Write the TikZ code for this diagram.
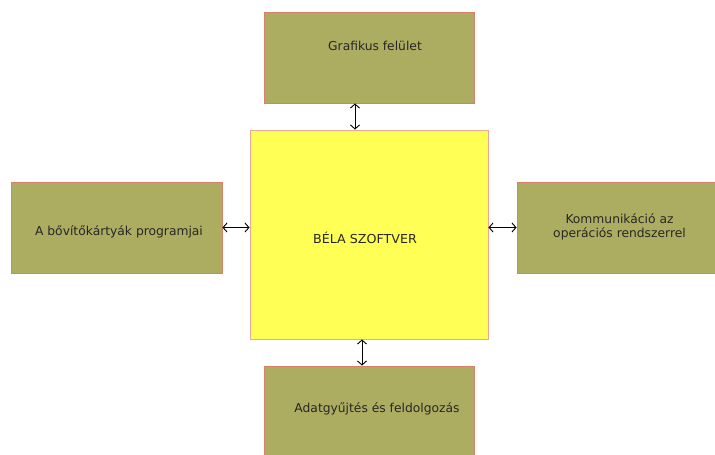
\documentclass[tikz,border=0pt]{standalone}
\usepackage{fontspec}
\setmainfont{DejaVu Sans}
\newfontfamily\widefont[FakeStretch=1.03]{DejaVu Sans}
\usetikzlibrary{arrows.meta}
\definecolor{olivebox}{HTML}{ADAD62}
\definecolor{oliveedge}{HTML}{D9806A}
\definecolor{yellowbox}{HTML}{FFFF55}
\definecolor{yellowedge}{HTML}{EBA894}
\tikzset{
  sidebox/.style={draw=oliveedge, fill=olivebox, line width=0.9pt, inner sep=0pt},
  mainbox/.style={draw=yellowedge, fill=yellowbox, line width=0.9pt, inner sep=0pt},
  label/.style={font=\fontsize{12.3}{13.8}\selectfont, text=black!85, align=center, inner sep=0pt},
  link/.style={line width=0.9pt, {Straight Barb[length=4pt,width=9pt]}-{Straight Barb[length=4pt,width=9pt]}}
}
\begin{document}
\begin{tikzpicture}[x=1pt,y=-1pt]
\useasboundingbox (0,0) rectangle (715,455);
\clip (0,0) rectangle (715,455);
\fill[white] (0,0) rectangle (715,455);
\node[mainbox, minimum width=238pt, minimum height=209pt] (core) at (369,234.5) {};
\node[label, font=\widefont\fontsize{12.3}{14}\selectfont] (coretxt) at (365,238) {BÉLA SZOFTVER};
\node[sidebox, minimum width=210pt, minimum height=91pt] (top) at (369,57.5) {};
\node[label] (toptxt) at (375,46) {Grafikus felület};
\node[sidebox, minimum width=211pt, minimum height=91pt] (left) at (116.5,227.5) {};
\node[label] (lefttxt) at (119,232) {A bővítőkártyák programjai};
\node[sidebox, minimum width=210pt, minimum height=91pt] (right) at (622,227.5) {};
\node[label] (righttxt) at (619.5,226.5) {Kommunikáció az\\operációs rendszerrel};
\node[sidebox, minimum width=210pt, minimum height=100pt] (bottom) at (369,416) {};
\node[label] (bottomtxt) at (377,409) {Adatgyűjtés és feldolgozás};
\draw[link] (top.south -| 355,0) -- (core.north -| 355,0);
\draw[link] (left.east |- 0,227.5) -- (core.west |- 0,227.5);
\draw[link] (core.east |- 0,227.5) -- (right.west |- 0,227.5);
\draw[link] (core.south -| 362,0) -- (bottom.north -| 362,0);
\end{tikzpicture}
\end{document}
